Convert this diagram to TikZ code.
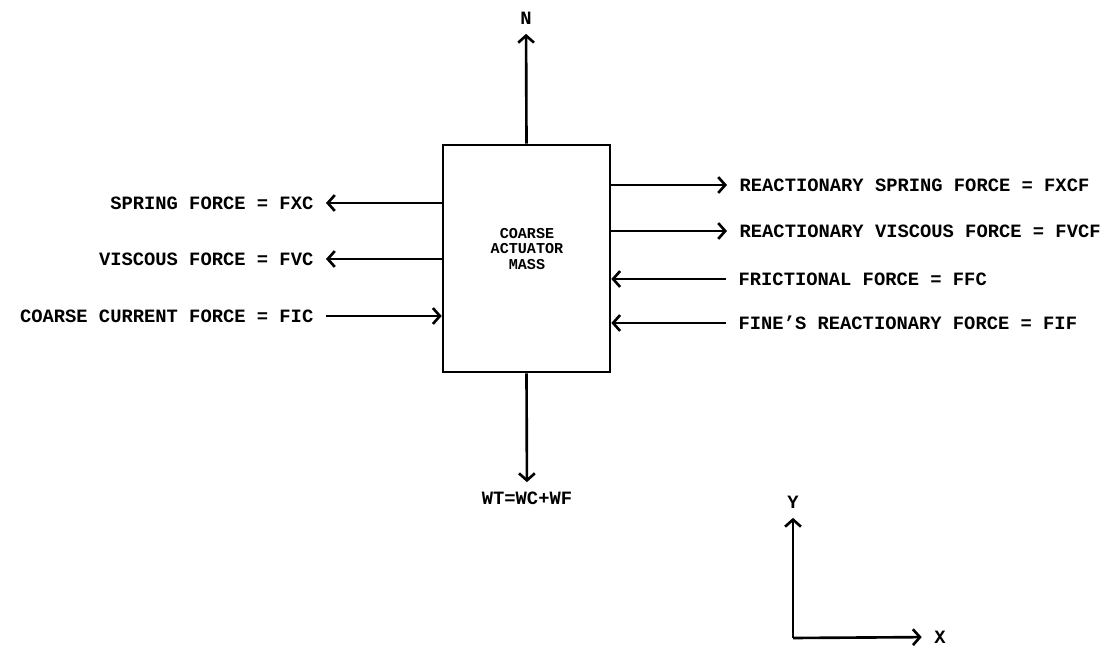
\documentclass[tikz,border=0pt]{standalone}
\usepackage{fontspec}
\setmainfont{Liberation Mono}
\usetikzlibrary{arrows.meta}
\begin{document}
\begin{tikzpicture}[x=0.02cm, y=-0.02cm,
  lbl/.style={font=\fontsize{10.7}{11}\selectfont\bfseries, inner xsep=7pt, inner ysep=5pt, text height=1.45ex, text depth=0pt},
  force/.style={line width=1.5pt, -{Straight Barb[length=4pt,width=9pt,line width=1.5pt]}}]
\useasboundingbox (0,0) rectangle (1110,648);
\node[draw, line width=1.5pt, minimum width=3.34cm, minimum height=4.54cm] (mass) at (526.5,258.5) {};
\node[align=center, font=\fontsize{8.6}{9}\selectfont\bfseries] (massname) at (527,249) {COARSE\\ACTUATOR\\MASS};
\node[lbl] (n) at (526,18) {N};
\node[lbl] (w) at (527,498) {WT=WC+WF};
\node[lbl, anchor=east] (fxc) at (326,203) {SPRING FORCE = FXC};
\node[lbl, anchor=east] (fvc) at (326,259) {VISCOUS FORCE = FVC};
\node[lbl, anchor=east] (fic) at (326,316) {COARSE CURRENT FORCE = FIC};
\node[lbl, anchor=west] (fxcf) at (727,185) {REACTIONARY SPRING FORCE = FXCF};
\node[lbl, anchor=west] (fvcf) at (727,231) {REACTIONARY VISCOUS FORCE = FVCF};
\node[lbl, anchor=west] (ffc) at (726,279) {FRICTIONAL FORCE = FFC};
\node[lbl, anchor=west] (fif) at (726,323) {FINE'S REACTIONARY FORCE = FIF};
\draw[force] (mass.north) -- (n);
\draw[force] (mass.south) -- (w);
\draw[force] (mass.west |- fxc) -- (fxc);
\draw[force] (mass.west |- fvc) -- (fvc);
\draw[force] (fic) -- (mass.west |- fic);
\draw[force] (mass.east |- fxcf) -- (fxcf);
\draw[force] (mass.east |- fvcf) -- (fvcf);
\draw[force] (ffc) -- (mass.east |- ffc);
\draw[force] (fif) -- (mass.east |- fif);
% axes
\coordinate (origin) at (793,638);
\node[lbl] (y) at (793,502) {Y};
\node[lbl] (x) at (940,637) {X};
\draw[force] (origin) -- (y);
\draw[force] (origin) -- (x);
\end{tikzpicture}
\end{document}
